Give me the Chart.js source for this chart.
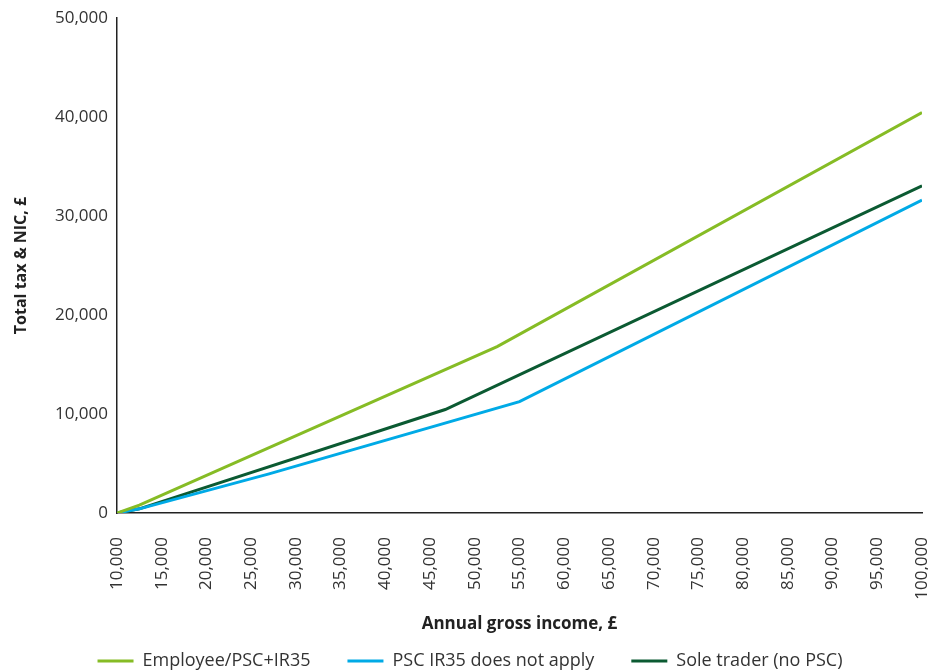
<!DOCTYPE html>
<html>
<head>
<meta charset="utf-8">
<script src="https://cdn.jsdelivr.net/npm/chart.js@4"></script>
<style>
  html, body { margin: 0; padding: 0; background: #fff; }
  #wrap { width: 928px; height: 671px; }
</style>
</head>
<body>
<div id="wrap"><canvas id="taxChart" width="928" height="671"></canvas></div>
<script>
// annual gross income (£) at each break point, and total tax & NIC (£) there
const employeeIncome = [10000, 12500, 52500, 100000];
const employeeTax    = [0, 800, 16800, 40450];

const pscIncome = [10000, 12500, 27000, 55000, 100000];
const pscTax    = [0, 420, 3950, 11250, 31600];

const soleIncome = [10000, 12500, 46700, 100000];
const soleTax    = [0, 420, 10450, 33050];

const seriesNames = ['Employee/PSC+IR35', 'PSC IR35 does not apply', 'Sole trader (no PSC)'];
const seriesColours = ['#86bc25', '#00aae6', '#0b5a32'];

const xTicks = { min: 10000, max: 100000, step: 5000 };
const yTicks = { min: 0, max: 50000, step: 10000 };

function toPoints(xs, ys) {
    return xs.map((x, i) => ({ x: x, y: ys[i] }));
}

const fmt = v => v.toLocaleString('en-GB');

const font = "'Open Sans', 'Noto Sans', sans-serif";
Chart.defaults.font.family = font;
Chart.defaults.color = '#333';

const ctx = document.getElementById('taxChart').getContext('2d');

new Chart(ctx, {
    type: 'line',
    data: {
        datasets: [
            { label: seriesNames[0], data: toPoints(employeeIncome, employeeTax) },
            { label: seriesNames[1], data: toPoints(pscIncome, pscTax) },
            { label: seriesNames[2], data: toPoints(soleIncome, soleTax) }
        ].map((d, i) => Object.assign(d, {
            borderColor: seriesColours[i],
            backgroundColor: seriesColours[i],
            borderWidth: 3,
            pointRadius: 0,
            tension: 0,
            fill: false
        }))
    },
    options: {
        responsive: false,
        animation: false,
        layout: { padding: { top: 18, right: 0, left: 12, bottom: -9 } },
        plugins: {
            tooltip: { enabled: false },
            legend: {
                position: 'bottom',
                labels: {
                    boxWidth: 36,
                    boxHeight: 3,
                    padding: 1,
                    color: '#333',
                    font: { size: 18 },
                    // wider gap between legend entries
                    generateLabels(chart) {
                        const items = Chart.defaults.plugins.legend.labels.generateLabels(chart);
                        items.forEach((it, i) => {
                            it.lineWidth = 0;
                            if (i < items.length - 1) it.text = it.text + '\u2003\u2003';
                        });
                        return items;
                    }
                }
            }
        },
        scales: {
            x: {
                type: 'linear',
                min: xTicks.min,
                max: xTicks.max,
                grid: { display: false },
                border: { display: true, color: '#222', width: 1.5 },
                ticks: {
                    stepSize: xTicks.step,
                    minRotation: 90,
                    maxRotation: 90,
                    padding: 16,
                    font: { size: 17 },
                    callback: v => fmt(v)
                },
                title: {
                    display: true,
                    text: 'Annual gross income, £',
                    font: { size: 17, weight: 'bold' },
                    color: '#222',
                    padding: { top: 4, bottom: 17 }
                },
                afterFit(scale) {
                    scale.height = 138;
                    scale.paddingRight = 6;
                }
            },
            y: {
                min: yTicks.min,
                max: yTicks.max,
                grid: { display: false },
                border: { display: true, color: '#222', width: 1.5 },
                ticks: {
                    stepSize: yTicks.step,
                    padding: 1,
                    font: { size: 17 },
                    callback: v => fmt(v)
                },
                title: {
                    display: true,
                    text: 'Total tax & NIC, £',
                    font: { size: 16, weight: 'bold' },
                    color: '#222',
                    padding: { top: 0, bottom: 10 }
                },
                afterFit(scale) { scale.width = 105; }
            }
        }
    }
});
</script>
</body>
</html>
